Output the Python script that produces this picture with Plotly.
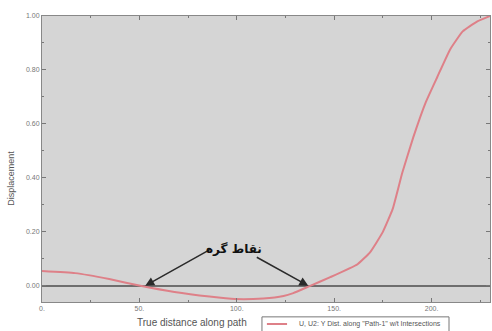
import plotly.graph_objects as go

# Data
distance = [0, 17, 34.5, 50.5, 68, 86, 99, 113.6, 124, 129, 137.7, 148, 162,
            168.5, 175, 180, 185, 190.6, 197, 203, 209.6, 216, 223.5, 230]
displacement = [0.055, 0.047, 0.025, 0.0, -0.023, -0.040, -0.049, -0.047, -0.038,
                -0.027, 0.0, 0.032, 0.080, 0.125, 0.200, 0.284, 0.420, 0.550,
                0.680, 0.775, 0.877, 0.943, 0.980, 1.0]
series_name = 'U, U2: Y Dist. along "Path-1" w/t Intersections'
x_tick_vals = [0, 50, 100, 150, 200]
x_tick_text = ["0.", "50.", "100.", "150.", "200."]
y_tick_vals = [0.0, 0.2, 0.4, 0.6, 0.8, 1.0]
y_tick_text = ["0.00", "0.20", "0.40", "0.60", "0.80", "1.00"]
label_text = "نقاط گره"
node_points_x = [53, 136.7]
node_points_y = [0.0, 0.0]
arrow_tails_x = [87.4, 109.5]
arrow_tails_y = [0.139, 0.109]

line_color = "#de8088"

fig = go.Figure()
fig.add_trace(go.Scatter(
    x=distance, y=displacement, mode="lines", name=series_name,
    line=dict(color=line_color, width=2, shape="spline", smoothing=0.4), showlegend=False,
))

annotations = []
for hx, hy, tx, ty in zip(node_points_x, node_points_y, arrow_tails_x, arrow_tails_y):
    annotations.append(dict(
        x=hx, y=hy, xref="x", yref="y", ax=tx, ay=ty, axref="x", ayref="y",
        text="", showarrow=True, arrowhead=2, arrowsize=1.2, arrowwidth=1.5,
        arrowcolor="#2a2a2a",
    ))
annotations.append(dict(
    x=98.5, y=0.135, xref="x", yref="y", text="<b>" + label_text + "</b>",
    showarrow=False, font=dict(family="DejaVu Sans", size=12, color="#111"),
))
annotations.append(dict(
    x=-0.085, y=0.434, xref="paper", yref="paper", text="Displacement",
    textangle=-90, showarrow=False,
    font=dict(family="Liberation Sans", size=9, color="#555"),
))
annotations.append(dict(
    x=0.335, y=-0.07, xref="paper", yref="paper", yanchor="middle",
    text="True distance along path", showarrow=False,
    font=dict(family="Liberation Sans", size=10, color="#555"),
))
# legend (drawn as a box, a sample line and a label)
annotations.append(dict(
    x=0.569, y=-0.077, xref="paper", yref="paper", xanchor="left", yanchor="middle",
    text=series_name, showarrow=False,
    font=dict(family="Liberation Sans", size=7, color="#555"),
))
shapes = [
    dict(type="rect", xref="paper", yref="paper", x0=0.491, x1=0.9085, y0=-0.052, y1=-0.2,
         line=dict(color="#777", width=1), fillcolor="white", layer="above"),
    dict(type="line", xref="paper", yref="paper", x0=0.502, x1=0.547, y0=-0.077, y1=-0.077,
         line=dict(color=line_color, width=2), layer="above"),
]

fig.update_layout(
    width=492, height=331,
    margin=dict(l=42, r=2, t=16, b=29, autoexpand=False),
    paper_bgcolor="white", plot_bgcolor="#d5d5d5",
    annotations=annotations, shapes=shapes,
    showlegend=False,
    xaxis=dict(
        range=[0, 230], tickvals=x_tick_vals, ticktext=x_tick_text,
        ticks="inside", ticklen=4, tickcolor="#777", showgrid=False,
        zeroline=False, showline=True, linecolor="#888", linewidth=1, mirror="ticks",
        tickfont=dict(family="Liberation Sans", size=7, color="#777"),
        minor=dict(dtick=25, tick0=0, ticks="inside", ticklen=2, tickcolor="#777"),
    ),
    yaxis=dict(
        range=[-0.06, 1.0], tickvals=y_tick_vals, ticktext=y_tick_text,
        ticks="inside", ticklen=4, tickcolor="#777", showgrid=False,
        zeroline=True, zerolinecolor="#6e6e6e", zerolinewidth=2,
        showline=True, linecolor="#888", linewidth=1, mirror="ticks",
        tickfont=dict(family="Liberation Sans", size=7, color="#777"),
        minor=dict(dtick=0.1, tick0=0, ticks="inside", ticklen=2, tickcolor="#777"),
    ),
)

fig.write_html("out.html", config={"displayModeBar": False},
               post_script="document.body.style.margin='0';")
